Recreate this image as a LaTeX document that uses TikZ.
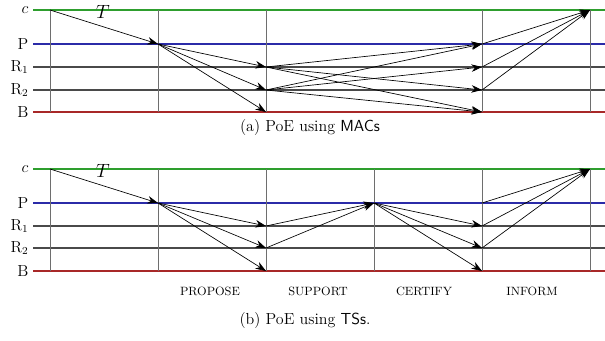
\documentclass[tikz,border=0pt]{standalone}
\usetikzlibrary{arrows.meta}
\definecolor{cgreen}{HTML}{2E9E2E}
\definecolor{cblue}{HTML}{2B2BA8}
\definecolor{cdark}{HTML}{4A4A4A}
\definecolor{cred}{HTML}{A82828}
\definecolor{cgrey}{HTML}{6E6E6E}
\tikzset{
  every picture/.style={x=0.75pt, y=-0.75pt},
  lane/.style={draw=#1, line width=1.3pt},
  lane/.default=cdark,
  phase/.style={draw=cgrey, line width=0.6pt},
  msg/.style={-{Stealth[length=2.8mm, width=2mm]}, line width=0.5pt},
  who/.style={anchor=east, inner sep=1pt, font=\large},
  stage/.style={font=\small},
  caption/.style={font=\large},
}
\begin{document}
\begin{tikzpicture}
  \useasboundingbox (0,0) rectangle (605,340);
  % panel (a): MACs
  \foreach \r/\y/\c in {c/10/cgreen, P/44/cblue, R1/67/cdark, R2/90/cdark, B/112/cred} {
    \foreach \i/\x in {0/33, 1/50, 2/158, 3/266, 4/482, 5/590, 6/605}
      \coordinate (a-\r-\i) at (\x,\y);
    \draw[lane=\c] (a-\r-0) -- (a-\r-6);
  }
  \foreach \i in {1,...,5} \draw[phase] (a-c-\i) -- (a-B-\i);
  \node[who] (a-c) at (30,10) {$c$};
  \node[who] (a-P) at (30,44) {P};
  \node[who] (a-R1) at (30,67) {R$_1$};
  \node[who] (a-R2) at (30,90) {R$_2$};
  \node[who] (a-B) at (30,112) {B};
  \node[font=\Large] (a-T) at (103,12) {$T$};
  \draw[msg] (a-c-1) -- (a-P-2);
  \foreach \t in {R1, R2, B} \draw[msg] (a-P-2) -- (a-\t-3);
  \foreach \t in {P, R2, B} \draw[msg] (a-R1-3) -- (a-\t-4);
  \foreach \t in {P, R1, B} \draw[msg] (a-R2-3) -- (a-\t-4);
  \foreach \s in {P, R1, R2} \draw[msg] (a-\s-4) -- (a-c-5);
  \node[caption] (a-cap) at (310,128) {(a) PoE using \textsf{MACs}};
  % panel (b): TSs
  \foreach \r/\y/\c in {c/169/cgreen, P/203/cblue, R1/226/cdark, R2/248/cdark, B/271/cred} {
    \foreach \i/\x in {0/33, 1/50, 2/158, 3/266, 4/374, 5/482, 6/590, 7/605}
      \coordinate (b-\r-\i) at (\x,\y);
    \draw[lane=\c] (b-\r-0) -- (b-\r-7);
  }
  \foreach \i in {1,...,6} \draw[phase] (b-c-\i) -- (b-B-\i);
  \node[who] (b-c) at (30,169) {$c$};
  \node[who] (b-P) at (30,203) {P};
  \node[who] (b-R1) at (30,226) {R$_1$};
  \node[who] (b-R2) at (30,248) {R$_2$};
  \node[who] (b-B) at (30,271) {B};
  \node[font=\Large] (b-T) at (103,171) {$T$};
  \draw[msg] (b-c-1) -- (b-P-2);
  \foreach \t in {R1, R2, B} \draw[msg] (b-P-2) -- (b-\t-3);
  \foreach \s in {R1, R2} \draw[msg] (b-\s-3) -- (b-P-4);
  \foreach \t in {R1, R2, B} \draw[msg] (b-P-4) -- (b-\t-5);
  \foreach \s in {P, R1, R2} \draw[msg] (b-\s-5) -- (b-c-6);
  \node[stage] (s-pro) at (210,291) {PROPOSE};
  \node[stage] (s-sup) at (318,291) {SUPPORT};
  \node[stage] (s-cer) at (424,291) {CERTIFY};
  \node[stage] (s-inf) at (532,291) {INFORM};
  \node[caption] (b-cap) at (305,320) {(b) PoE using \textsf{TSs}.};
\end{tikzpicture}
\end{document}
